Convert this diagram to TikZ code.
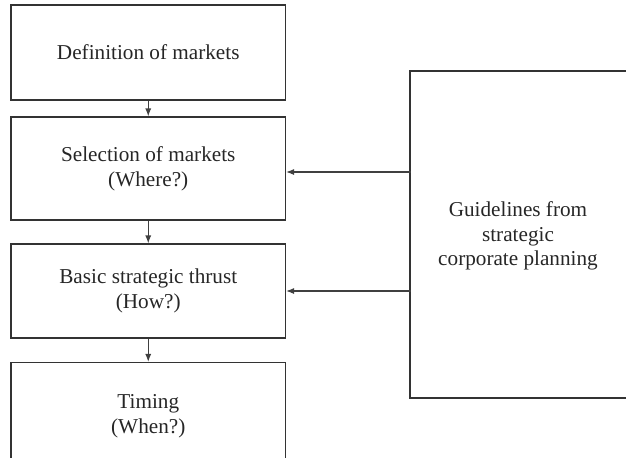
\documentclass[tikz,border=0pt]{standalone}
\usepackage{fontspec}
\setmainfont{Liberation Serif}
\usetikzlibrary{arrows.meta}
\begin{document}
\begin{tikzpicture}[x=0.5pt,y=-0.5pt,
  line width=0.55pt,
  stagebox/.style={draw=black!80, rectangle, align=center, text=black!85,
    minimum width=137.25pt, font=\fontsize{10.6}{12.6}\selectfont, inner sep=0pt},
  arr/.style={draw=black!75, -{Latex[length=4pt,width=3pt]}}]
  \useasboundingbox (0,0) rectangle (626,457);
  \clip (0,0) rectangle (626,457);

  % planning stages, top to bottom
  \node[stagebox, minimum height=47.5pt] (b1) at (148.25,52.5) {Definition of markets};
  \node[stagebox, minimum height=51.5pt] (b2) at (148.25,168.5) {Selection of markets\\(Where?)};
  \node[stagebox, minimum height=47pt]   (b3) at (148.25,291) {Basic strategic thrust\\(How?)};
  \node[stagebox, minimum height=54pt]   (b4) at (148.25,416.5) {Timing\\(When?)};

  % guidelines box (runs past the right edge)
  \node[stagebox, minimum width=110pt, minimum height=163.5pt] (g) at (520,234.5) {};
  \node[text=black!85, align=center, font=\fontsize{10.6}{12.2}\selectfont] (gt) at (518,236)
    {Guidelines from\\strategic\\corporate planning};

  % flow between stages
  \draw[arr] (b1.south) -- (b2.north);
  \draw[arr] (b2.south) -- (b3.north);
  \draw[arr] (b3.south) -- (b4.north);

  % guidance arrows
  \coordinate (g1) at (410.5,172);
  \coordinate (g2) at (410.5,291);
  \draw[arr] (g1) -- (g1 -| b2.east);
  \draw[arr] (g2) -- (g2 -| b3.east);
\end{tikzpicture}
\end{document}
